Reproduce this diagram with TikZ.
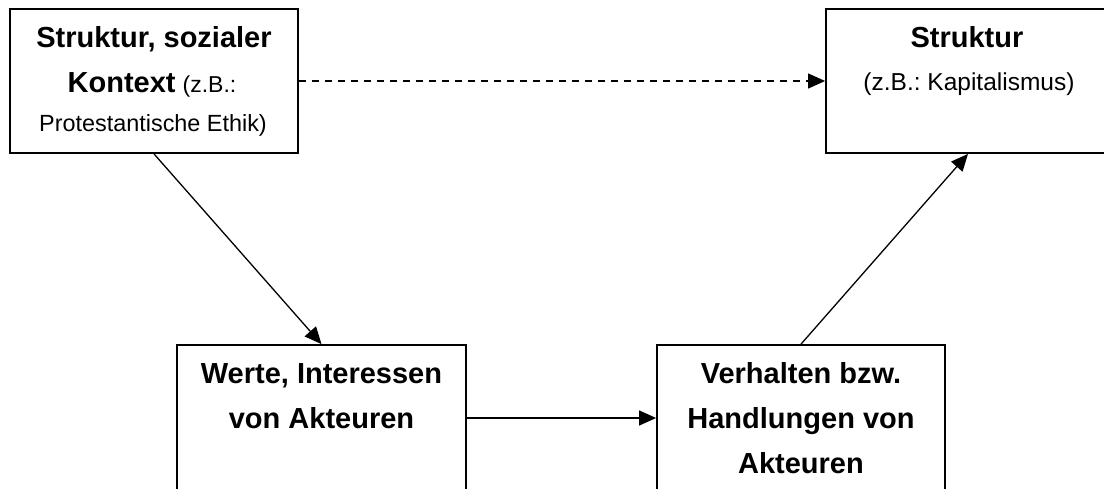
\documentclass[tikz,border=0pt]{standalone}
\usepackage{fontspec}
\setmainfont{Liberation Sans}
\usetikzlibrary{arrows.meta}
\frenchspacing
\tikzset{
  box/.style={draw=black, line width=1.8pt, rectangle, inner sep=0pt, fill=none},
  bt/.style={inner sep=0pt, anchor=base, font=\fontsize{29}{35}\selectfont\bfseries},
  rt/.style={inner sep=0pt, anchor=base, font=\fontsize{24}{29}\selectfont},
  conn/.style={line width=1.3pt, -{Triangle[length=17pt,width=15pt]}},
}
\begin{document}
\begin{tikzpicture}[x=1pt,y=-1pt]
\useasboundingbox (0,0) rectangle (1104,488);
\clip (0,0) rectangle (1104,488);
% boxes
\node[box, minimum width=288pt, minimum height=144pt] (tl) at (154,81) {};
\node[box, minimum width=284pt, minimum height=144pt] (tr) at (968,81) {};
\node[box, minimum width=289pt, minimum height=146pt] (bl) at (321.5,418) {};
\node[box, minimum width=288pt, minimum height=146pt] (br) at (801,418) {};
% texts
\node[bt] (tl1) at (154,47) {Struktur, sozialer};
\node[inner sep=0pt, anchor=base] (tl2) at (152,92) {{\fontsize{29}{35}\selectfont\bfseries Kontext}\hspace{7pt}{\fontsize{23}{27}\selectfont (z.B.:}};
\node[rt, font=\fontsize{23.4}{28}\selectfont] (tl3) at (153,131) {Protestantische Ethik)};
\node[bt] (tr1) at (967,47) {Struktur};
\node[rt, font=\fontsize{24.5}{29}\selectfont] (tr2) at (969,90) {(z.B.: Kapitalismus)};
\node[bt] (bl1) at (321.5,383) {Werte, Interessen};
\node[bt] (bl2) at (321.5,428) {von Akteuren};
\node[bt] (br1) at (801,383) {Verhalten bzw.};
\node[bt] (br2) at (801,428) {Handlungen von};
\node[bt] (br3) at (801,473) {Akteuren};
% connectors
\draw[conn, dash pattern=on 7pt off 6pt] (tl.east) -- (tr.west);
\draw[conn] (tl.south) -- (bl.north);
\draw[conn] (bl.east) -- (br.west);
\draw[conn] (br.north) -- (tr.south);
\end{tikzpicture}
\end{document}
